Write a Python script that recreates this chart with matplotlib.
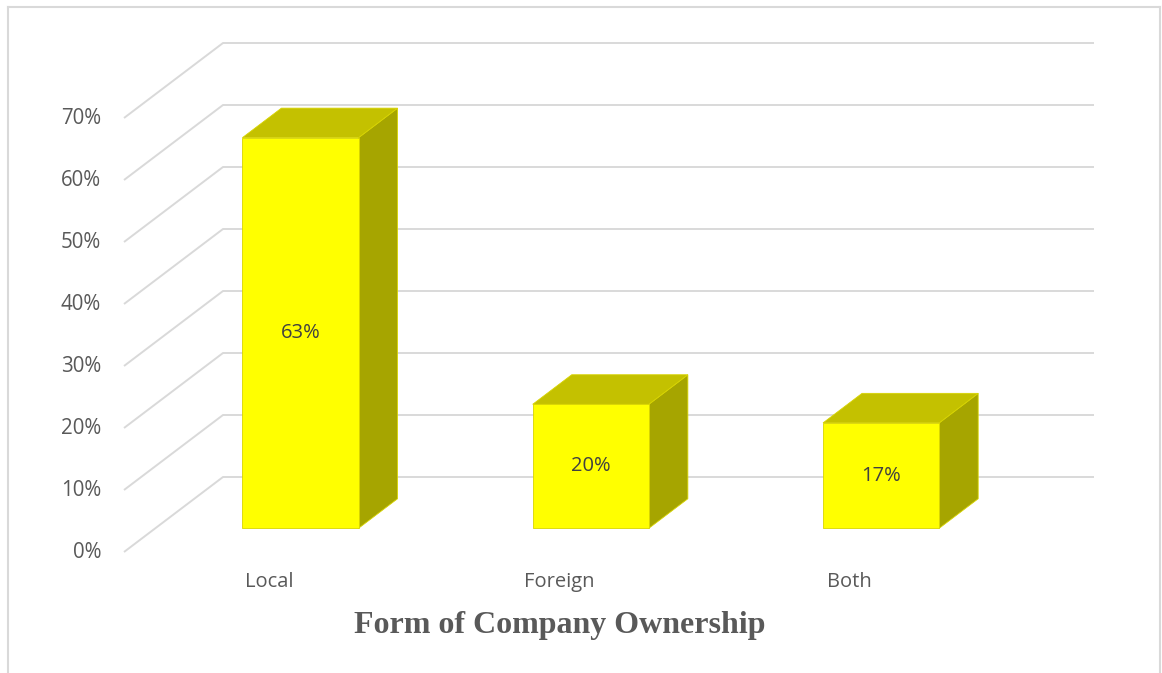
import matplotlib.pyplot as plt
from matplotlib.patches import Polygon
from matplotlib.lines import Line2D

categories = ['Local', 'Foreign', 'Both']
shares = [63, 20, 17]
ticks = [0, 10, 20, 30, 40, 50, 60, 70]
xlabel = 'Form of Company Ownership'

# oblique depth offset for the full floor depth, in (category units, percent units)
DX = 99 / 290.33
DY = 75 / 6.2
BAR_W = 0.4
D0, D1 = 0.316, 0.71

front_col = '#FFFF00'
top_col = '#C4C100'
side_col = '#A6A500'
grid_col = '#D9D9D9'
text_col = '#595959'


def proj(x, y, d):
    return (x + d * DX, y + d * DY)


fig = plt.figure(figsize=(11.62, 6.73), dpi=100)
ax = fig.add_axes([0, 0, 1, 1])
ax.set_xlim(-124 / 290.33, (1162 - 124) / 290.33)
ax.set_ylim(-(673 - 552) / 6.2, 552 / 6.2)
ax.axis('off')

# back wall gridlines and side wall diagonals
for t in ticks:
    pts = [proj(0, t, 0), proj(0, t, 1), proj(len(categories), t, 1)]
    ax.plot([p[0] for p in pts], [p[1] for p in pts], color=grid_col, lw=1.4,
            solid_capstyle='butt', zorder=1)
    ax.text(-0.079, t, f'{t}%', ha='right', va='center', fontsize=14.8,
            family='Open Sans', color=text_col)

for i, (cat, v) in enumerate(zip(categories, shares)):
    x0 = i + (1 - BAR_W) / 2
    x1 = x0 + BAR_W
    front = [proj(x0, 0, D0), proj(x1, 0, D0), proj(x1, v, D0), proj(x0, v, D0)]
    top = [proj(x0, v, D0), proj(x1, v, D0), proj(x1, v, D1), proj(x0, v, D1)]
    side = [proj(x1, 0, D0), proj(x1, 0, D1), proj(x1, v, D1), proj(x1, v, D0)]
    for poly, col in [(side, side_col), (top, top_col), (front, front_col)]:
        ax.add_patch(Polygon(poly, closed=True, facecolor=col, edgecolor='#D8D400',
                             lw=0.6, zorder=3))
    cx, cy = proj(i + 0.5, v / 2, D0)
    ax.text(cx, cy, f'{v}%', ha='center', va='center', fontsize=14.5,
            family='Open Sans', color='#404040', zorder=4)
    ax.text(i + 0.5, -4.9, cat, ha='center', va='center', fontsize=14.5,
            family='Open Sans', color=text_col)

ax.text(1.5, -11.9, xlabel, ha='center', va='center', fontsize=23,
        family='Liberation Serif', fontweight='bold', color=text_col)

# chart area border (bottom edge falls outside the image)
W, H = 1162, 673
bx0, by0, bx1 = 7.5 / W, 1 - 6.5 / H, 1160 / W
for xs, ys in [([bx0, bx0], [0, by0]), ([bx0, bx1], [by0, by0]), ([bx1, bx1], [by0, 0])]:
    fig.add_artist(Line2D(xs, ys, color='#D9D9D9', lw=1.5))

fig.savefig('out.png', dpi=100)
